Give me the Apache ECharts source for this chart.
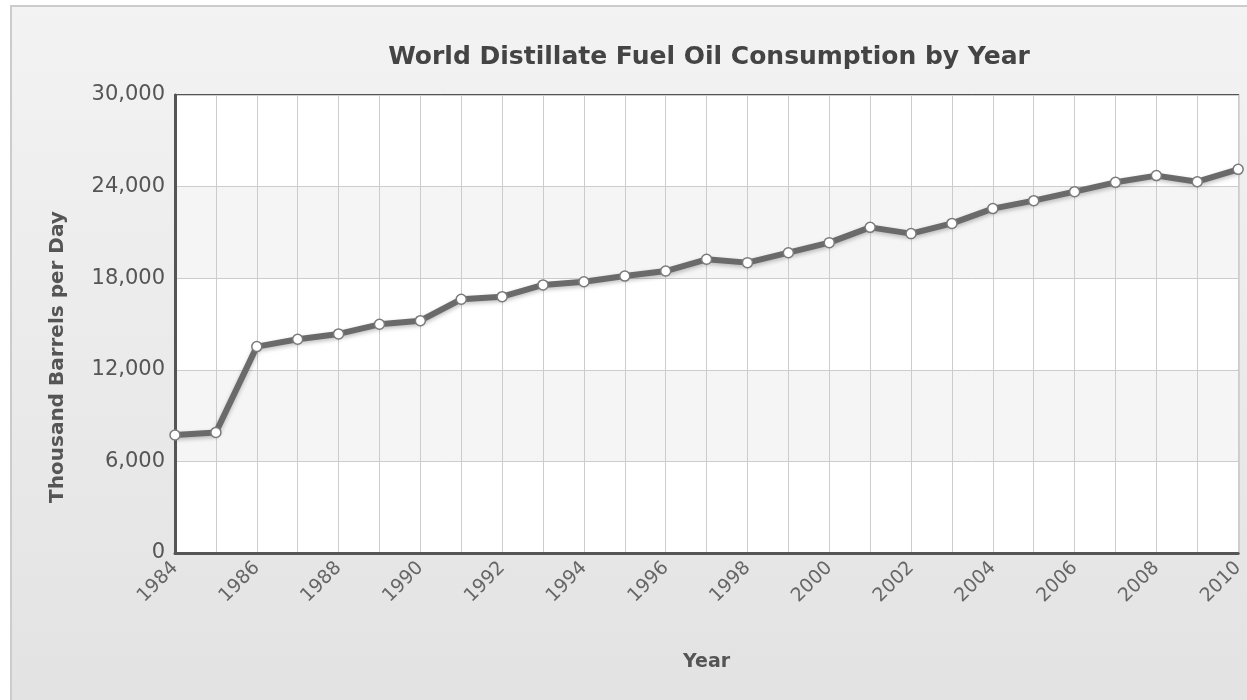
<!DOCTYPE html>
<html>
<head>
<meta charset="utf-8">
<script src="https://cdn.jsdelivr.net/npm/echarts@6/dist/echarts.min.js"></script>
<style>
  html, body { margin: 0; padding: 0; background: #ffffff; }
  #chart { width: 1247px; height: 700px; }
</style>
</head>
<body>
<div id="chart"></div>
<script>
// Years on the category axis
const years = ['1984','1985','1986','1987','1988','1989','1990','1991','1992','1993',
  '1994','1995','1996','1997','1998','1999','2000','2001','2002','2003',
  '2004','2005','2006','2007','2008','2009','2010'];

// Thousand barrels per day
const consumption = [7730, 7900, 13520, 14000, 14350, 14980, 15220, 16620, 16790, 17560,
  17770, 18140, 18470, 19240, 19020, 19670, 20330, 21330, 20920, 21590,
  22560, 23080, 23670, 24280, 24720, 24320, 25130];

// Value axis ticks
const yMin = 0, yMax = 30000, yStep = 6000;

const FONT = 'DejaVu Sans';
const chart = echarts.init(document.getElementById('chart'), null, { renderer: 'canvas' });

chart.setOption({
  animation: false,
  backgroundColor: '#ffffff',
  graphic: [{
    type: 'rect',
    z: -10,
    silent: true,
    shape: { x: 11, y: 6, width: 1260, height: 720 },
    style: {
      fill: new echarts.graphic.LinearGradient(0, 0, 0, 1, [
        { offset: 0, color: '#f3f3f3' },
        { offset: 1, color: '#e2e2e2' }
      ]),
      stroke: '#cccccc',
      lineWidth: 2
    }
  }, {
    // vertical value-axis title
    type: 'text',
    x: 58,
    y: 357,
    rotation: Math.PI / 2,
    silent: true,
    style: {
      text: 'Thousand Barrels per Day',
      fontFamily: FONT,
      fontSize: 20,
      fontWeight: 'bold',
      fill: '#555555',
      align: 'center',
      verticalAlign: 'middle'
    }
  }],
  title: {
    text: 'World Distillate Fuel Oil Consumption by Year',
    left: 704,
    textAlign: 'center',
    top: 40,
    textStyle: { fontFamily: FONT, fontSize: 25, fontWeight: 'bold', color: '#444444' }
  },
  grid: {
    left: 175, right: 7, top: 95, bottom: 147,
    show: true,
    backgroundColor: '#ffffff',
    borderColor: '#555555',
    borderWidth: 2
  },
  xAxis: {
    type: 'category',
    data: years,
    boundaryGap: false,
    name: 'Year',
    nameLocation: 'middle',
    nameGap: 100,
    nameTextStyle: { fontFamily: FONT, fontSize: 19, fontWeight: 'bold', color: '#555555' },
    axisLine: { lineStyle: { color: '#555555', width: 3 } },
    axisTick: { show: false },
    splitLine: { show: true, interval: 0, lineStyle: { color: '#cccccc', width: 1 } },
    axisLabel: {
      interval: 1,
      rotate: 45,
      margin: 12,
      fontFamily: FONT,
      fontSize: 19,
      color: '#666666'
    }
  },
  yAxis: {
    type: 'value',
    min: yMin, max: yMax, interval: yStep,
    axisLine: { show: true, lineStyle: { color: '#555555', width: 3 } },
    axisTick: { show: false },
    splitLine: { show: true, lineStyle: { color: '#cccccc', width: 1 } },
    splitArea: { show: true, areaStyle: { color: ['#ffffff', '#f5f5f5'] } },
    axisLabel: {
      margin: 10,
      fontFamily: FONT,
      fontSize: 21,
      color: '#555555',
      formatter: v => v.toLocaleString('en-US')
    }
  },
  series: [{
    type: 'line',
    data: consumption,
    symbol: 'circle',
    symbolSize: 10,
    showSymbol: true,
    clip: false,
    lineStyle: {
      color: '#6a6a6a',
      width: 6,
      shadowColor: 'rgba(0,0,0,0.25)',
      shadowBlur: 4,
      shadowOffsetY: 2
    },
    itemStyle: {
      color: '#ffffff',
      borderColor: '#7a7a7a',
      borderWidth: 1.5
    }
  }]
});
</script>
</body>
</html>
